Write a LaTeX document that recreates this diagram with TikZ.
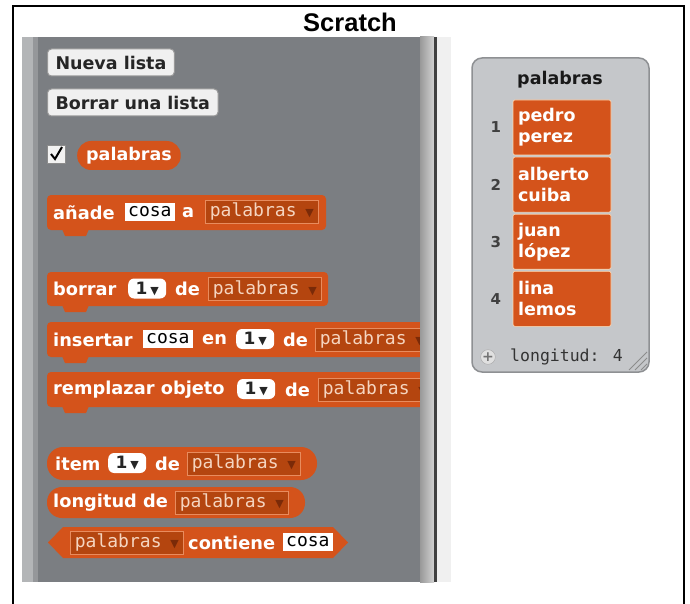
\documentclass[tikz,border=0pt]{standalone}
\usepackage{fontspec}
\usetikzlibrary{positioning}
\newfontfamily\scrfont{DejaVu Sans}
\newfontfamily\scrmono{DejaVu Sans Mono}
\newfontfamily\headfont{Liberation Sans}
\definecolor{panelgray}{HTML}{7B7E82}
\definecolor{stripelight}{HTML}{B3B5B7}
\definecolor{stripemid}{HTML}{95979A}
\definecolor{listorange}{HTML}{D4531B}
\definecolor{menufill}{HTML}{B4450F}
\definecolor{menuedge}{HTML}{E88C5E}
\definecolor{menutext}{HTML}{F5D5C0}
\definecolor{menuarrow}{HTML}{7A2A08}
\definecolor{monitorgray}{HTML}{C5C7CA}
\definecolor{monitoredge}{HTML}{8E9093}
\newcommand{\dropmark}{{\scrfont\fontsize{11}{11}\selectfont\char"25BC}}

\begin{document}
\begin{tikzpicture}[x=1pt, y=-1pt,
    blockfill/.style={fill=listorange},
    word/.style={font=\scrfont\bfseries\fontsize{17.8}{21}\selectfont, text=white, anchor=west, inner sep=0pt},
    slot/.style={fill=white, text=black, font=\scrmono\fontsize{18}{18}\selectfont, anchor=west, inner xsep=3pt, inner ysep=0pt, minimum height=18pt},
    numslot/.style={fill=white, rounded corners=6pt, text=black!85, font=\scrfont\bfseries\fontsize{17}{17}\selectfont, anchor=west, minimum width=38pt, minimum height=20pt, inner sep=0pt},
    menu/.style={fill=menufill, draw=menuedge, line width=0.8pt, text=menutext, font=\scrmono\fontsize{18}{18}\selectfont, anchor=west, minimum height=23pt, text width=104pt, align=left, inner xsep=4.5pt, inner ysep=0pt},
    button/.style={fill=black!6, draw=black!40, line width=1pt, rounded corners=4pt, text=black!85, font=\scrfont\bfseries\fontsize{17.5}{17.5}\selectfont, anchor=west, minimum height=27pt, inner xsep=8pt},
    cell/.style={fill=listorange, draw=orange!30, line width=0.6pt, rounded corners=2pt, minimum width=98pt, minimum height=55pt, text width=88pt, align=left, inner xsep=5pt, text=white, font=\scrfont\bfseries\fontsize{17.5}{21}\selectfont},
    idxnum/.style={font=\scrfont\bfseries\fontsize{15}{15}\selectfont, text=black!75}
  ]
  \useasboundingbox (0,0) rectangle (690,604);
  \fill[white] (0,0) rectangle (690,604);
  \node[font=\headfont\bfseries\fontsize{25.5}{25.5}\selectfont] (title) at (350,22) {Scratch};

  \fill[black!6] (437,37) rectangle (451,582);
  \fill[panelgray] (22,37) rectangle (437,582);
  \fill[stripelight] (22,37) rectangle (33,582);
  \fill[stripemid] (33,37) rectangle (38,582);

  \node[button] (newlist) at (47,62.5) {Nueva lista};
  \node[button] (droplist) at (47,102.5) {Borrar una lista};

  \node[draw=black!45, fill=black!5, minimum size=18pt, inner sep=0pt] (check) at (56.5,154) {};
  \draw[line width=2pt] (51,154) -- (55,159) -- (62,147);
  \node[word, fill=listorange, rounded corners=14pt, minimum height=29pt, inner xsep=9pt, font=\scrfont\bfseries\fontsize{17.5}{21}\selectfont] (var) at (77,155.5) {palabras};

  \foreach \ya/\yb/\xb in {195/230/326, 272/306/328, 322/357/436, 372/407/436}{
    \fill[blockfill, rounded corners=4pt] (47,\ya) rectangle (\xb,\yb);
    \fill[blockfill] (62,\yb-1) -- (65,\yb+6) -- (86,\yb+6) -- (89,\yb-1) -- cycle;
  }

  \node[word] (add) at (53,212.5) {añade};
  \node[slot] (addthing) at (125,212) {cosa};
  \node[word] (addto) at (182,212.5) {a};
  \node[menu] (addlist) at (205,211.5) {palabras\hfill\textcolor{menuarrow}{\dropmark}};

  \node[word] (del) at (53,289) {borrar};
  \node[numslot] (delnum) at (128,288.5) {1\,\dropmark};
  \node[word] (delof) at (175,289) {de};
  \node[menu] (dellist) at (208,289) {palabras\hfill\textcolor{menuarrow}{\dropmark}};

  \node[word] (ins) at (53,339.5) {insertar};
  \node[slot] (insthing) at (143,339) {cosa};
  \node[word] (insat) at (202,339.5) {en};
  \node[numslot] (insnum) at (236,339) {1\,\dropmark};
  \node[word] (insof) at (283,339.5) {de};
  \node[menu] (inslist) at (315,339.5) {palabras\hfill\textcolor{menuarrow}{\dropmark}};

  \node[word] (rep) at (53,389.5) {remplazar objeto};
  \node[numslot] (repnum) at (237,389) {1\,\dropmark};
  \node[word] (repof) at (285,389.5) {de};
  \node[menu] (replist) at (318,389.5) {palabras\hfill\textcolor{menuarrow}{\dropmark}};

  \shade[left color=black!40, right color=black!18] (420,37) rectangle (434,582);
  \fill[black!75] (434,37) rectangle (437,582);

  \fill[blockfill, rounded corners=16pt] (47,447) rectangle (317,480);
  \node[word] (item) at (55,463.5) {item};
  \node[numslot] (itemnum) at (108,463) {1\,\dropmark};
  \node[word] (itemof) at (155,463.5) {de};
  \node[menu] (itemlist) at (187,463.5) {palabras\hfill\textcolor{menuarrow}{\dropmark}};

  \fill[blockfill, rounded corners=15pt] (47,487) rectangle (305,518);
  \node[word] (len) at (53,502.5) {longitud de};
  \node[menu] (lenlist) at (175,502.5) {palabras\hfill\textcolor{menuarrow}{\dropmark}};

  \fill[blockfill] (48,542.5) -- (63,527) -- (333,527) -- (348,542.5) -- (333,558) -- (63,558) -- cycle;
  \node[menu] (haslist) at (70,542.5) {palabras\hfill\textcolor{menuarrow}{\dropmark}};
  \node[word] (has) at (188,542.5) {contiene};
  \node[slot] (hasthing) at (283,542) {cosa};

  \node[fill=monitorgray, draw=monitoredge, line width=1.5pt, rounded corners=10pt, minimum width=177pt, minimum height=314pt] (monitor) at (560.5,215) {};
  \node[font=\scrfont\bfseries\fontsize{17.5}{21}\selectfont, text=black!90] (montitle) at (560,80) {palabras};
  \node[cell] (cell1) at (562,127.5) {pedro\\perez};
  \node[cell, below=1.5pt of cell1] (cell2) {alberto\\cuiba};
  \node[cell, below=1.5pt of cell2] (cell3) {juan\\lópez};
  \node[cell, below=1.5pt of cell3] (cell4) {lina\\lemos};
  \foreach \n in {1,...,4}
    \node[idxnum, left=8pt of cell\n] (num\n) {\n};

  \node[circle, fill=black!12, draw=black!35, minimum size=14pt, inner sep=0pt, text=black!55, font=\scrfont\bfseries\fontsize{14}{14}\selectfont] (plus) at (488,357) {+};
  \node[anchor=west, font=\scrmono\fontsize{16.5}{16.5}\selectfont, text=black!80, inner sep=0pt] (length) at (510,357) {longitud: 4};
  \foreach \d in {0,6,12}
    \draw[black!45, line width=0.8pt] (647,352+\d) -- (629+\d,370);

  \draw[line width=2pt] (13,604) -- (13,6) -- (684,6) -- (684,604);
\end{tikzpicture}
\end{document}
